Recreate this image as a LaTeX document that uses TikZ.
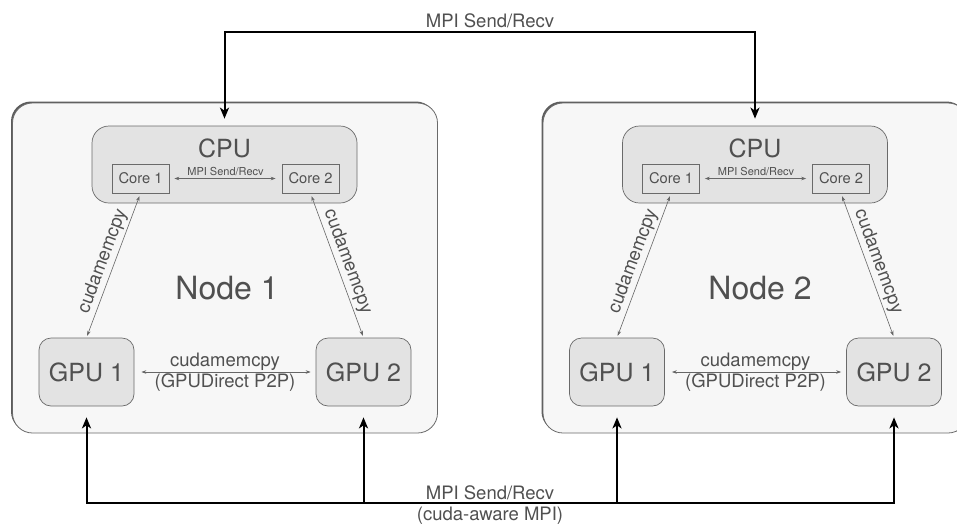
\documentclass[tikz,border=0pt]{standalone}
\usepackage{fontspec}
\setmainfont{TeX Gyre Heros}
\usetikzlibrary{arrows.meta,shadows}
\definecolor{txtgrey}{HTML}{505050}
\definecolor{boxline}{HTML}{6a6a6a}

\begin{document}
\begin{tikzpicture}[x=1pt, y=-1pt]
\tikzset{outerbox/.style = {draw=boxline, fill=black!3, rounded corners=20pt, line width=0.8pt,
        drop shadow={shadow xshift=-1.5pt, shadow yshift=1.5pt, fill=black!80, opacity=.8},
        minimum width=425pt, minimum height=330pt}}
\tikzset{cpubox/.style = {draw=boxline, fill=black!11, rounded corners=17pt, line width=0.7pt,
        minimum width=265pt, minimum height=77pt}}
\tikzset{corebox/.style = {draw=boxline, fill=black!11, line width=0.7pt, text=txtgrey,
        font=\fontsize{14.7}{16}\selectfont, minimum width=57pt, minimum height=29pt, inner sep=0pt}}
\tikzset{gpubox/.style = {draw=boxline, fill=black!11, rounded corners=12pt, line width=0.7pt, text=txtgrey,
        font=\fontsize{25}{28}\selectfont, minimum width=95pt, minimum height=68pt, inner sep=0pt}}
\tikzset{bigtext/.style = {text=txtgrey, inner sep=0pt}}
\tikzset{thin link/.style = {draw=black!60, line width=0.6pt, {Stealth[length=5pt,width=3.5pt]}-{Stealth[length=5pt,width=3.5pt]}}}
\tikzset{lbl/.style = {text=txtgrey, font=\fontsize{18.5}{20}\selectfont}}
\tikzset{bus/.style = {draw=black, line width=2pt}}
\tikzset{bus tip/.style = {-{Stealth[length=11pt,width=9pt,inset=3pt]}}}

\useasboundingbox (0,0) rectangle (957,525);
\clip (0,0) rectangle (957,525);

% the two compute nodes
\foreach \n/\x in {a/224.5, b/755} {
  \node[outerbox] (node\n) at (\x+0.5,268) {};
  \node[cpubox] (cpu\n) at (\x,164.5) {};
  \node[bigtext, font=\fontsize{25}{28}\selectfont] (cpulbl\n) at (\x,148) {CPU};
  \node[corebox] (core1\n) at (\x-84,178.5) {Core 1};
  \node[corebox] (core2\n) at (\x+86,178.5) {Core 2};
  \node[gpubox] (gpu1\n) at (\x-138,372) {GPU 1};
  \node[gpubox] (gpu2\n) at (\x+139,372) {GPU 2};

  % links inside a node
  \draw[thin link, shorten <=5pt, shorten >=6pt] (core1\n) -- node[above=-1pt, text=txtgrey,
        font=\fontsize{11}{12}\selectfont] {MPI Send/Recv} (core2\n);
  \draw[thin link, shorten <=7pt, shorten >=5pt] (gpu1\n) -- node[lbl, above=-2pt] {cudamemcpy}
        node[lbl, below=-2pt] {(GPUDirect P2P)} (gpu2\n);
  \draw[thin link, shorten <=2pt, shorten >=3pt] (gpu1\n.north) -- node[lbl, sloped, above=-1pt] {cudamemcpy} (core1\n.south);
  \draw[thin link, shorten <=3pt, shorten >=2pt] (core2\n.south) -- node[lbl, sloped, above=-1pt] {cudamemcpy} (gpu2\n.north);
}
\node[bigtext, font=\fontsize{32}{36}\selectfont] (nodelbla) at (227,288) {Node 1};
\node[bigtext, font=\fontsize{32}{36}\selectfont] (nodelblb) at (760,288) {Node 2};

% MPI between the CPUs
\coordinate (topbus) at (490,32);
\draw[bus, bus tip, shorten >=7pt] (topbus) -| (cpub.north);
\draw[bus, bus tip, shorten >=7pt] (topbus) -| (cpua.north);
\node[lbl, above=1pt] (toplbl) at (topbus) {MPI Send/Recv};

% cuda-aware MPI between the GPUs
\coordinate (lowbus) at (490,503);
\draw[bus, bus tip, shorten >=11pt] (lowbus) -| (gpu1a.south);
\draw[bus, bus tip, shorten >=11pt] (lowbus) -| (gpu2b.south);
\draw[bus, bus tip, shorten >=11pt] (gpu2a.south |- lowbus) -- (gpu2a.south);
\draw[bus, bus tip, shorten >=11pt] (gpu1b.south |- lowbus) -- (gpu1b.south);
\node[lbl, above=0pt] (lowlbl1) at (lowbus) {MPI Send/Recv};
\node[lbl, below=0pt] (lowlbl2) at (lowbus) {(cuda-aware MPI)};
\end{tikzpicture}
\end{document}
